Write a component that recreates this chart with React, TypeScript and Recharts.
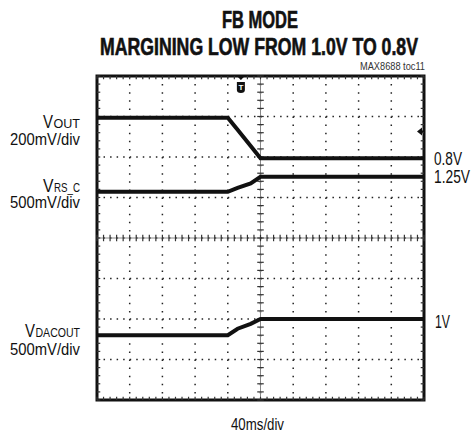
import React from 'react';
import { LineChart, Line, XAxis, YAxis, CartesianGrid, ReferenceLine, ReferenceArea, ReferenceDot } from 'recharts';

// scope capture, time in ms (40ms/div), channel values in volts
const TIME_MS = [0, 160, 172, 188, 200, 400];
const VOUT_V = [1.0, 1.0, 0.94, 0.86, 0.8, 0.8];
const VRS_C_V = [1.065, 1.065, 1.115, 1.17, 1.25, 1.25];
const VDACOUT_V = [0.8, 0.8, 0.88, 0.94, 1.0, 1.0];

// volts per division and ground offset (in divisions) of each channel
const VOUT_SCALE = 0.2;
const VOUT_OFFSET = 1.97;
const VRS_C_SCALE = 0.5;
const VRS_C_OFFSET = 3.01;
const VDACOUT_SCALE = 0.5;
const VDACOUT_OFFSET = 0;

const X_TICKS = [0, 40, 80, 120, 160, 200, 240, 280, 320, 360, 400];
const Y_TICKS = [0, 1, 2, 3, 4, 5, 6, 7, 8];
const TRIGGER_MS = 176;
const TRIG_LEVEL_DIV = 6.63;

const data = TIME_MS.map((t, i) => ({
  t,
  vout: VOUT_OFFSET + VOUT_V[i] / VOUT_SCALE,
  vrs: VRS_C_OFFSET + VRS_C_V[i] / VRS_C_SCALE,
  dac: VDACOUT_OFFSET + VDACOUT_V[i] / VDACOUT_SCALE,
}));

// minor tick positions (5 per division)
const minorX: number[] = [];
for (let k = 0; k <= 50; k++) minorX.push(k * 8);
const minorY: number[] = [];
for (let k = 0; k <= 40; k++) minorY.push(k * 0.2);

const FONT = "'Liberation Sans', Arial, sans-serif";
const INK = '#111';

// text squeezed to a given width, to stand in for the narrow Helvetica of the original
const Fit = ({ x, y, w, size, bold, children, fill = INK }: any) => (
  <text
    x={x}
    y={y}
    fontSize={size}
    fontWeight={bold ? 'bold' : 'normal'}
    fill={fill}
    stroke={bold ? fill : 'none'}
    strokeWidth={bold ? 0.6 : 0}
    textLength={w}
    lengthAdjust="spacingAndGlyphs"
  >
    {children}
  </text>
);

const TriggerMark = (props: any) => {
  const { cx, cy } = props;
  return (
    <g>
      <polygon points={`${cx - 4},${cy} ${cx + 4},${cy} ${cx},${cy + 4}`} fill={INK} />
      <path d={`M${cx - 4},${cy + 6} h8 v8 q0,3 -4,3 q-4,0 -4,-3 z`} fill={INK} />
      <text x={cx} y={cy + 14} fontSize={8} fontWeight="bold" fill="#fff" textAnchor="middle" fontFamily="Arial, sans-serif">T</text>
    </g>
  );
};

const LevelMark = (props: any) => {
  const { cx, cy } = props;
  return (
    <g>
      <polygon points={`${cx - 7},${cy} ${cx - 2},${cy - 4} ${cx - 2},${cy + 4}`} fill={INK} />
      <rect x={cx - 3} y={cy - 1} width={2} height={2} fill={INK} />
    </g>
  );
};

export default function App() {
  return (
    <div style={{ position: 'absolute', left: 0, top: 0, width: 474, height: 433, background: '#fff', fontFamily: FONT }}>
      <LineChart width={474} height={433} data={data} margin={{ top: 76, right: 50, bottom: 33, left: 97 }}>
        <XAxis type="number" dataKey="t" domain={[0, 400]} ticks={X_TICKS} hide />
        <YAxis type="number" domain={[0, 8]} ticks={Y_TICKS} hide />
        <CartesianGrid horizontal vertical={false} stroke="#222" strokeWidth={1.5} strokeDasharray="1.5 5.04" />
        <CartesianGrid horizontal={false} vertical stroke="#222" strokeWidth={1.5} strokeDasharray="1.5 6.6" />
        <ReferenceLine y={4} stroke="#888" strokeWidth={1} />
        <ReferenceLine x={200} stroke="#888" strokeWidth={1} />
        {minorX.map((x) => (
          <ReferenceLine key={`ch${x}`} segment={[{ x, y: 3.92 }, { x, y: 4.08 }]} stroke="#333" strokeWidth={1.2} />
        ))}
        {minorY.map((y) => (
          <ReferenceLine key={`cv${y}`} segment={[{ x: 196, y }, { x: 204, y }]} stroke="#333" strokeWidth={1.2} />
        ))}
        {minorX.map((x) => (
          <ReferenceLine key={`bt${x}`} segment={[{ x, y: 8 }, { x, y: 7.92 }]} stroke="#333" strokeWidth={1.2} />
        ))}
        {minorX.map((x) => (
          <ReferenceLine key={`bb${x}`} segment={[{ x, y: 0 }, { x, y: 0.08 }]} stroke="#333" strokeWidth={1.2} />
        ))}
        {minorY.map((y) => (
          <ReferenceLine key={`bl${y}`} segment={[{ x: 0, y }, { x: 4, y }]} stroke="#333" strokeWidth={1.2} />
        ))}
        {minorY.map((y) => (
          <ReferenceLine key={`br${y}`} segment={[{ x: 396, y }, { x: 400, y }]} stroke="#333" strokeWidth={1.2} />
        ))}
        <ReferenceArea x1={0} x2={400} y1={0} y2={8} fill="none" stroke={INK} strokeWidth={3} />
        <Line type="linear" dataKey="vout" stroke={INK} strokeWidth={4} dot={false} isAnimationActive={false} />
        <Line type="linear" dataKey="vrs" stroke={INK} strokeWidth={4} dot={false} isAnimationActive={false} />
        <Line type="linear" dataKey="dac" stroke={INK} strokeWidth={4} dot={false} isAnimationActive={false} />
        <ReferenceDot x={TRIGGER_MS} y={8} r={4} shape={TriggerMark} ifOverflow="visible" />
        <ReferenceDot x={400} y={TRIG_LEVEL_DIV} r={4} shape={LevelMark} ifOverflow="visible" />
      </LineChart>
      <svg width={474} height={433} style={{ position: 'absolute', left: 0, top: 0, pointerEvents: 'none' }} fontFamily={FONT}>
        <Fit x={222} y={28} w={76} size={23} bold>FB MODE</Fit>
        <Fit x={100} y={55} w={318} size={23} bold>MARGINING LOW FROM 1.0V TO 0.8V</Fit>
        <Fit x={360} y={70} w={65} size={11.5} fill="#333">MAX8688 toc11</Fit>

        <Fit x={43} y={128} w={10} size={18}>V</Fit>
        <Fit x={53.5} y={128} w={26.5} size={13.5}>OUT</Fit>
        <Fit x={10} y={145} w={70} size={16.5}>200mV/div</Fit>
        <Fit x={43} y={192} w={10.5} size={18}>V</Fit>
        <Fit x={54} y={192} w={26} size={13.5}>RS_C</Fit>
        <Fit x={10} y={208} w={70} size={16.5}>500mV/div</Fit>
        <Fit x={25} y={337} w={10} size={18}>V</Fit>
        <Fit x={35.5} y={337} w={44.5} size={13.5}>DACOUT</Fit>
        <Fit x={10} y={355} w={70} size={16.5}>500mV/div</Fit>

        <Fit x={434} y={165} w={28} size={18}>0.8V</Fit>
        <Fit x={434} y={183} w={36} size={18}>1.25V</Fit>
        <Fit x={435} y={328} w={15} size={18}>1V</Fit>

        <Fit x={231} y={430} w={53} size={17}>40ms/div</Fit>
      </svg>
    </div>
  );
}
